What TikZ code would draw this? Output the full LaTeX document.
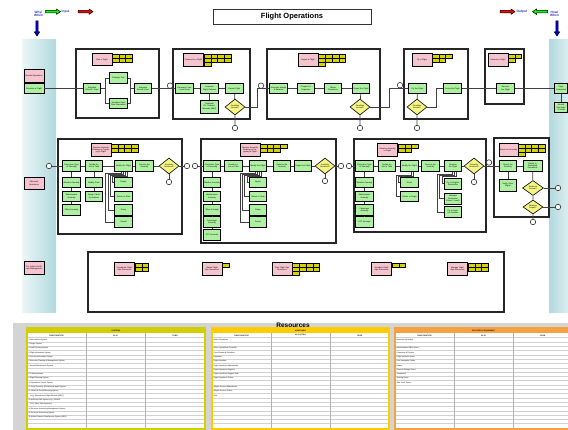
\documentclass[tikz,border=0pt]{standalone}
\usepackage{fontspec}
\setmainfont{Liberation Sans}
\usetikzlibrary{shapes.geometric}

\definecolor{taskgreen}{HTML}{AEF0A2}
\definecolor{hdrpink}{HTML}{F5C4CE}
\definecolor{cellyellow}{HTML}{D6D200}
\definecolor{decideyellow}{HTML}{F4F484}
\definecolor{panelteal}{HTML}{B2D9DE}
\definecolor{panellight}{HTML}{EBF6F7}
\definecolor{labelblue}{HTML}{3030C0}
\definecolor{sysyellow}{HTML}{D2CE00}
\definecolor{mangold}{HTML}{FFCC00}
\definecolor{facorange}{HTML}{F7A040}
\definecolor{resgrey}{HTML}{D4D4D4}

\tikzset{
  tiny text/.style={font=\fontsize{2}{2.3}\selectfont},
  task/.style={draw=black, fill=taskgreen, line width=0.6pt, minimum width=17.5pt,
    minimum height=10.5pt, inner sep=0.3pt, text width=16pt, align=center, tiny text},
  hdr/.style={task, fill=hdrpink, minimum width=20pt, minimum height=12.5pt, text width=18.5pt},
  decide/.style={diamond, draw=black, fill=decideyellow, line width=0.6pt, minimum width=20pt,
    minimum height=16pt, inner sep=0pt, align=center, tiny text},
  link/.style={circle, draw=black!80, fill=white, line width=0.6pt, minimum size=5.5pt, inner sep=0pt},
  frame/.style={draw=black!85, fill=white, line width=1.1pt},
  flow/.style={draw=black!75, line width=0.7pt},
  branch/.style={draw=black!75, line width=0.45pt},
  rescell/.style={draw=black, fill=cellyellow, line width=0.5pt},
  cue/.style={text=labelblue, font=\bfseries\fontsize{3.2}{3.2}\selectfont, align=center, inner sep=0pt},
  tabhead/.style={font=\bfseries\fontsize{1.8}{2}\selectfont, inner sep=0pt},
  tabitem/.style={anchor=west, font=\fontsize{1.8}{2}\selectfont, inner sep=0pt},
}

% small resource cells beside a header: x, y, columns, rows
\newcommand{\rescells}[4]{%
  \foreach \ci in {1,...,#3}{\foreach \ri in {1,...,#4}{%
    \draw[rescell] ({#1+(\ci-1)*6.8},{#2+(\ri-1)*4}) rectangle ++(6.8,4);}}}

% fat arrow: centre x, centre y, angle, colour
\newcommand{\fatarrow}[4]{%
  \begin{scope}[shift={(#1,#2)}, rotate=#3]
    \draw[fill=#4, line width=0.5pt] (-7.5,-1.2) -- (3.5,-1.2) -- (3.5,-2.7) -- (7.5,0)
      -- (3.5,2.7) -- (3.5,1.2) -- (-7.5,1.2) -- cycle;
  \end{scope}}

% resource table: x0, x1, x2, x3, colour, title, as-is header
\newcommand{\restable}[7]{%
  \fill[white] (#1,328) rectangle (#4,429);
  \fill[#5] (#1,328) rectangle (#4,333);
  \foreach \rw in {0,...,21}{\draw[black!18, line width=0.3pt] (#1,{337.6+\rw*4.3}) -- (#4,{337.6+\rw*4.3});}
  \draw[black!30, line width=0.4pt] (#2,333) -- (#2,429) (#3,333) -- (#3,429);
  \draw[#5, line width=1.3pt] (#1,328) rectangle (#4,429);
  \node[tabhead] at ({(#1+#4)/2},330.6) {#6};
  \node[tabhead] at ({(#1+#2)/2},335.4) {FUNCTION/TYPE};
  \node[tabhead] at ({(#2+#3)/2},335.4) {#7};
  \node[tabhead] at ({(#3+#4)/2},335.4) {TO BE};}

\begin{document}
\begin{tikzpicture}[x=1pt,y=-1pt]
  \clip (0,0) rectangle (568,430);
  \fill[white] (0,0) rectangle (568,430);

  % side panels and resource area
  \shade[left color=panellight, right color=panelteal] (22,40) rectangle (56,313);
  \shade[left color=panelteal, right color=panellight] (549,40) rectangle (575,313);
  \fill[resgrey] (13,323) rectangle (568,430);

  % title and cues
  \node[draw=black!80, line width=0.8pt, minimum width=158pt, minimum height=15pt,
    font=\bfseries\fontsize{7.5}{8}\selectfont] (title) at (292,16.5) {Flight Operations};
  \node[cue] (why) at (38.5,13.8) {Why/\\When};
  \fatarrow{53}{11.7}{0}{green}
  \node[cue, anchor=west] (input) at (61.5,12) {Input};
  \fatarrow{85.5}{11.7}{0}{red}
  \fatarrow{37}{28.5}{-90}{blue!85!black}
  \fatarrow{507.5}{11.7}{0}{red}
  \node[cue, anchor=west] (output) at (516.5,12) {Output};
  \fatarrow{540}{11.7}{180}{green}
  \node[cue] (how) at (554.5,13.8) {How/\\When};
  \fatarrow{557}{28.5}{-90}{blue!85!black}

  % process frames
  \draw[frame] (76,49) rectangle (159,118);
  \draw[frame] (173,49) rectangle (250,119);
  \draw[frame] (267,49) rectangle (380,119);
  \draw[frame] (404,49) rectangle (468,119);
  \draw[frame] (485,49) rectangle (524,104);
  \draw[frame] (58,139) rectangle (182,234);
  \draw[frame] (201,139) rectangle (336,243);
  \draw[frame] (354,139) rectangle (486,232);
  \draw[frame] (494,138) rectangle (549,217);
  \draw[frame] (88,252) rectangle (504,312);

  % normal operations
  \node[hdr] (normal) at (34,76) {Normal Operations};
  \node[task, minimum width=20pt] (sched) at (34,88.5) {Schedule a Flight};

  \node[hdr] (plan) at (102,59.5) {Plan a Flight};
  \rescells{112}{54}{3}{2}
  \node[task] (s1) at (92,88.5) {Schedule Aircraft / Crew};
  \node[task] (s2) at (118.5,78) {Strategic Plan};
  \node[task] (s3) at (118.5,103.5) {Schedule Flight Plan Information};
  \node[task] (s4) at (143,88.5) {Schedule Aircraft Crew};

  \node[hdr] (prep) at (193.5,60) {Prepare for a Flight};
  \rescells{204}{54}{4}{2}
  \rescells{204}{62}{1}{1}
  \node[task] (p1) at (184.5,88.5) {Generate Crew Load Sheet};
  \node[task] (p2) at (209.5,88.5) {Generate Flight Release};
  \node[task] (p3) at (234.5,88.5) {Depart Flight};
  \node[task, minimum height=13pt] (p4) at (209.5,106.5) {Generate Flt. Release, Manuals (MEF)};
  \node[decide] (dp) at (235,107) {Condition\\Normal?};
  \node[link] (xp) at (235,128) {};

  \node[hdr] (dep) at (308,60) {Depart a Flight};
  \rescells{318.5}{54}{4}{2}
  \rescells{318.5}{62}{1}{1}
  \node[task] (q1) at (278.5,88.5) {Generate Weight \& Balance};
  \node[task] (q2) at (306,88.5) {Prepare for Departure};
  \node[task] (q3) at (333,88.5) {Obtain Clearances};
  \node[task] (q4) at (361,88.5) {Depart the Flight};
  \node[decide] (dq) at (360,107) {Condition\\Normal?};
  \node[link] (xq) at (360,128) {};

  \node[hdr] (fly) at (422,60) {Fly a Flight};
  \rescells{432}{54}{3}{1}
  \rescells{432}{58}{2}{1}
  \node[task] (r1) at (417.5,88.5) {Fly the Flight};
  \node[decide] (dr) at (417,107) {Condition\\Normal?};
  \node[link] (xr) at (417,128) {};
  \node[task] (r2) at (452.5,88.5) {Arrive the Flight};

  \node[hdr] (rec) at (498,60) {Recover a Flight};
  \rescells{508}{54}{2}{1}
  \rescells{508}{58}{1}{1}
  \node[task] (t1) at (505.5,88.5) {Recover the Flight};

  \node[task, minimum width=13.5pt, text width=12.5pt] (fc) at (561,88.5) {Flight Completed};
  \node[task, minimum width=13.5pt, text width=12.5pt] (ov) at (561,107.5) {Aircraft Overnight / Turned};

  % abnormal operations
  \node[hdr] (abnormal) at (34,183.5) {Abnormal Operations};

  \node[hdr] (resa) at (101,150) {Resolve Anomaly Relating to Preparing a Flight};
  \rescells{111}{144}{4}{2}
  \node[link] (ia) at (49,166) {};
  \node[task] (a1) at (71.5,166) {Determine Type of Anomaly};
  \node[task] (a11) at (71.5,182.5) {Weather Anomaly};
  \node[task] (a12) at (71.5,196.5) {Maintenance Anomaly};
  \node[task] (a13) at (71.5,210) {Other Anomaly};
  \node[task] (a2) at (94,166) {Decide Action to Take};
  \node[task] (a21) at (94,182.5) {Modify Crew};
  \node[task] (a22) at (94,196.5) {Assign / Modify Airplane};
  \node[task] (a3) at (123.5,166) {Modify the Flight};
  \node[task] (a31) at (123.5,182.5) {Depart};
  \node[task] (a32) at (123.5,196.5) {Return to Gate};
  \node[task] (a33) at (123.5,210) {Delay};
  \node[task] (a34) at (123.5,222) {Cancel};
  \node[task] (a4) at (144.5,166) {Resolve the Anomaly};
  \node[decide] (da) at (169,166) {Anomaly\\Resolved?};
  \node[link] (xa) at (169,182) {};
  \node[link] (oa) at (187,166) {};

  \node[hdr] (resb) at (250,150) {Resolve Anomaly Relating to Departing a Flight};
  \rescells{260}{144}{4}{1}
  \rescells{260}{148}{3}{1}
  \node[link] (ib) at (195,166) {};
  \node[task] (b1) at (212,166) {Determine Type of Anomaly};
  \node[task] (b11) at (212,182.5) {Weather Anomaly};
  \node[task] (b12) at (212,196.5) {Maintenance Anomaly};
  \node[task] (b13) at (212,210) {Other Anomaly};
  \node[task] (b14) at (212,222) {Passenger Anomaly};
  \node[task] (b15) at (212,235) {ATC Anomaly};
  \node[task] (b2) at (233.5,166) {Decide Action to Take};
  \node[task] (b3) at (258,166) {Modify the Flight};
  \node[task] (b31) at (258,182.5) {Depart};
  \node[task] (b32) at (258,196.5) {Return to Gate};
  \node[task] (b33) at (258,210) {Delay};
  \node[task] (b34) at (258,222) {Cancel};
  \node[task] (b4) at (282,166) {Resolve the Anomaly};
  \node[task] (b5) at (303,166) {Depart the Flight};
  \node[decide] (db) at (325,166) {Anomaly\\Resolved?};
  \node[link] (xb) at (325,181) {};
  \node[link] (ob) at (341,166) {};

  \node[hdr] (resc) at (387.5,150) {Resolve Anomaly in Flight};
  \rescells{398}{144}{3}{1}
  \rescells{398}{148}{2}{1}
  \node[link] (ic) at (349,166) {};
  \node[task] (c1) at (364.5,166) {Determine Type of Anomaly};
  \node[task] (c11) at (364.5,182.5) {Weather Anomaly};
  \node[task] (c12) at (364.5,196.5) {Maintenance Anomaly};
  \node[task] (c13) at (364.5,210) {Passenger Anomaly};
  \node[task] (c14) at (364.5,222) {ATC Anomaly};
  \node[task] (c2) at (387,166) {Decide Action to Take};
  \node[task] (c3) at (409.5,166) {Modify the Flight};
  \node[task] (c31) at (409.5,182.5) {Divert};
  \node[task] (c32) at (409.5,196.5) {Return to Origin};
  \node[task] (c4) at (430.5,166) {Resolve the Anomaly};
  \node[task] (c5) at (453,166) {Resume the Flight};
  \node[task, minimum height=11pt] (c51) at (453,183.5) {Fly to Original Destination};
  \node[task, minimum height=11pt] (c52) at (453,198.5) {Alternate Destination (Divert / Land)};
  \node[task] (c53) at (453,212) {Fly to Nearest Suitable};
  \node[decide] (dc) at (474,166) {Anomaly\\Resolved?};
  \node[link] (xc) at (474,182) {};

  \node[hdr, minimum width=19pt] (resd) at (508.5,150) {Report an Anomaly};
  \rescells{518}{144}{4}{2}
  \rescells{518}{152}{1}{1}
  \node[task] (d1) at (508,166) {Report the Anomaly};
  \node[task, minimum height=12pt] (d11) at (508,185) {Notify Other Flights};
  \node[task, minimum width=19pt] (d2) at (532.5,166) {Return to Scheduled Operations};
  \node[decide, minimum width=21pt, minimum height=15pt] (dd1) at (533,188) {Return to\\Normal?};
  \node[decide, minimum height=14pt] (dd2) at (533,207) {Ready to\\Depart?};
  \node[link] (xd1) at (558,188) {};
  \node[link] (xd2) at (558,207) {};
  \node[link] (xd3) at (533,222) {};

  % flight operations resources
  \node[hdr] (admin) at (34,268) {F.S. Admin Certificate Management};
  \node[hdr] (e1) at (124.5,269) {Coordinate Flight Ops Resources};
  \rescells{135}{263.5}{2}{2}
  \node[hdr] (e2) at (212,269) {Obtain Flight Ops Resources};
  \rescells{222}{263.5}{1}{1}
  \node[hdr] (e3) at (282,269) {Train Flight Ops Resources};
  \rescells{292.5}{263.5}{4}{2}
  \rescells{292.5}{271.5}{1}{1}
  \node[hdr] (e4) at (381.5,269) {Schedule Flight Ops Resources};
  \rescells{392}{263.5}{2}{1}
  \node[hdr] (e5) at (457.5,269) {Manage Flight Ops Resources};
  \rescells{468}{263.5}{3}{2}

  % connectors, normal row
  \draw[flow] (sched) -- (s1);
  \draw[flow] (s1.east) -- ++(4,0) |- (s2);
  \draw[flow] (s1.east) -- ++(4,0) |- (s3);
  \draw[flow] (s2.east) -- ++(3,0) |- (s4);
  \draw[flow] (s3.east) -- ++(3,0) |- (s4);
  \draw[flow] (s4) -- (p1) -- (p2) -- (p3);
  \draw[flow] (p2) -- (p4);
  \draw[flow] (p3) -- (dp) -- (xp);
  \draw[flow] (dp.east) -- ++(12,0) |- (q1);
  \draw[flow] (q1) -- (q2) -- (q3) -- (q4) -- (dq) -- (xq);
  \draw[flow] (dq.east) -- ++(19,0) |- (r1);
  \draw[flow] (r1) -- (dr) -- (xr);
  \draw[flow] (dr.east) -- ++(9,0) |- (r2);
  \draw[flow] (r2) -- (t1) -- (fc) -- (ov);

  % connectors, abnormal row
  \draw[flow] (ia) -- (a1) -- (a2) -- (a3) -- (a4) -- (da) -- (oa);
  \draw[flow] (da) -- (xa);
  \draw[flow] (a1) -- (a11) -- (a12) -- (a13);
  \draw[flow] (a2) -- (a21) -- (a22);
  \foreach \k [count=\i from 0] in {a31,a32,a33,a34}
    \draw[branch] ([xshift={3.5-2*\i}]a3.south) -- ++(0,{5-\i}) -| ([xshift={-2-2.3*\i}]\k.west) -- (\k.west);

  \draw[flow] (ib) -- (b1) -- (b2) -- (b3) -- (b4) -- (b5) -- (db) -- (ob);
  \draw[flow] (db) -- (xb);
  \draw[flow] (b1) -- (b11) -- (b12) -- (b13) -- (b14) -- (b15);
  \foreach \k [count=\i from 0] in {b31,b32,b33,b34}
    \draw[branch] ([xshift={3.5-2*\i}]b3.south) -- ++(0,{5-\i}) -| ([xshift={-2-2.3*\i}]\k.west) -- (\k.west);

  \draw[flow] (ic) -- (c1) -- (c2) -- (c3) -- (c4) -- (c5) -- (dc) -- (d1);
  \draw[flow] (dc) -- (xc);
  \draw[flow] (c1) -- (c11) -- (c12) -- (c13) -- (c14);
  \foreach \k [count=\i from 0] in {c31,c32}
    \draw[branch] ([xshift={3.5-2*\i}]c3.south) -- ++(0,{5-\i}) -| ([xshift={-2-2.3*\i}]\k.west) -- (\k.west);
  \foreach \k [count=\i from 0] in {c51,c52,c53}
    \draw[branch] ([xshift={3.5-2*\i}]c5.south) -- ++(0,{5-\i}) -| ([xshift={-2-2.3*\i}]\k.west) -- (\k.west);

  \draw[flow] (d1) -- (d2);
  \draw[flow] (d1) -- (d11);
  \draw[flow] (d2) -- (dd1) -- (dd2) -- (xd3);
  \draw[flow] (dd1) -- (xd1);
  \draw[flow] (dd2) -- (xd2);

  % page connectors sitting on the lines
  \node[link] (m1) at (170,85.7) {};
  \node[link] (m2) at (261,85.7) {};
  \node[link] (m3) at (400,85.2) {};
  \node[link] (m4) at (489,162.5) {};

  % resources
  \node[font=\bfseries\fontsize{6.5}{7}\selectfont, inner sep=0pt] (restitle) at (293,325.2) {Resources};
  \restable{27}{86}{145}{205}{sysyellow}{SYSTEMS}{AS IS}
  \restable{212}{271}{330}{389}{mangold}{MANPOWER}{AS IS (FTEs)}
  \restable{395}{454}{513}{572}{facorange}{FACILITIES \& EQUIPMENT}{AS IS}

  \foreach \rw/\txt in {0/{1  Reservations System}, 1/{2  Cargo System}, 2/{3  Load Planning System},
      3/{4  Flight Information System}, 4/{5  Security Information System},
      5/{6  Resource Planning \& Management System}, 6/{7  Aircraft Maintenance System},
      8/{8  Training System}, 9/{9  Flight Planning System}, 10/{10  Operations Control System},
      11/{11  Crew Planning, Scheduling \& Mgmt System}, 12/{12  Library \& Record Keeping System},
      13/{\quad(e.g., Manuals and Flight Records (MEF))}, 14/{13  Airborne Data System (e.g., ACARS,},
      15/{\quad EVT, Other Data Systems)}, 16/{14  Revenue Accounting Management System},
      17/{15  Revenue Accounting System}, 18/{16  Airline Revenue Data/Invoice System (ARD)}}
    \node[tabitem] at (28.5,{339.75+\rw*4.3}) {\txt};

  \foreach \rw/\txt in {0/{Airline Operations}, 2/{Airline Operational Controller}, 3/{Crew Planner \& Scheduler},
      4/{Dispatcher}, 5/{Flight Attendant}, 6/{Flight Operations Administrator},
      7/{Flight Operations Engineer}, 8/{Flight Operations Support Staff}, 9/{Flight Operations Trainer},
      11/{Inflight Services Administrator}, 12/{Inflight Services Trainer}, 13/{Pilot}}
    \node[tabitem] at (213.5,{339.75+\rw*4.3}) {\txt};

  \foreach \rw/\txt in {0/{Airplanes (by Model)}, 2/{Administrative Office Space}, 3/{Computers \& Printers},
      4/{Flight Simulator Space}, 5/{Pilot Navigation Charts}, 6/{Radios}, 7/{Records Storage Space},
      8/{Telephones}, 9/{Training Space}, 10/{``War room'' Space}}
    \node[tabitem] at (396.5,{339.75+\rw*4.3}) {\txt};
\end{tikzpicture}
\end{document}
